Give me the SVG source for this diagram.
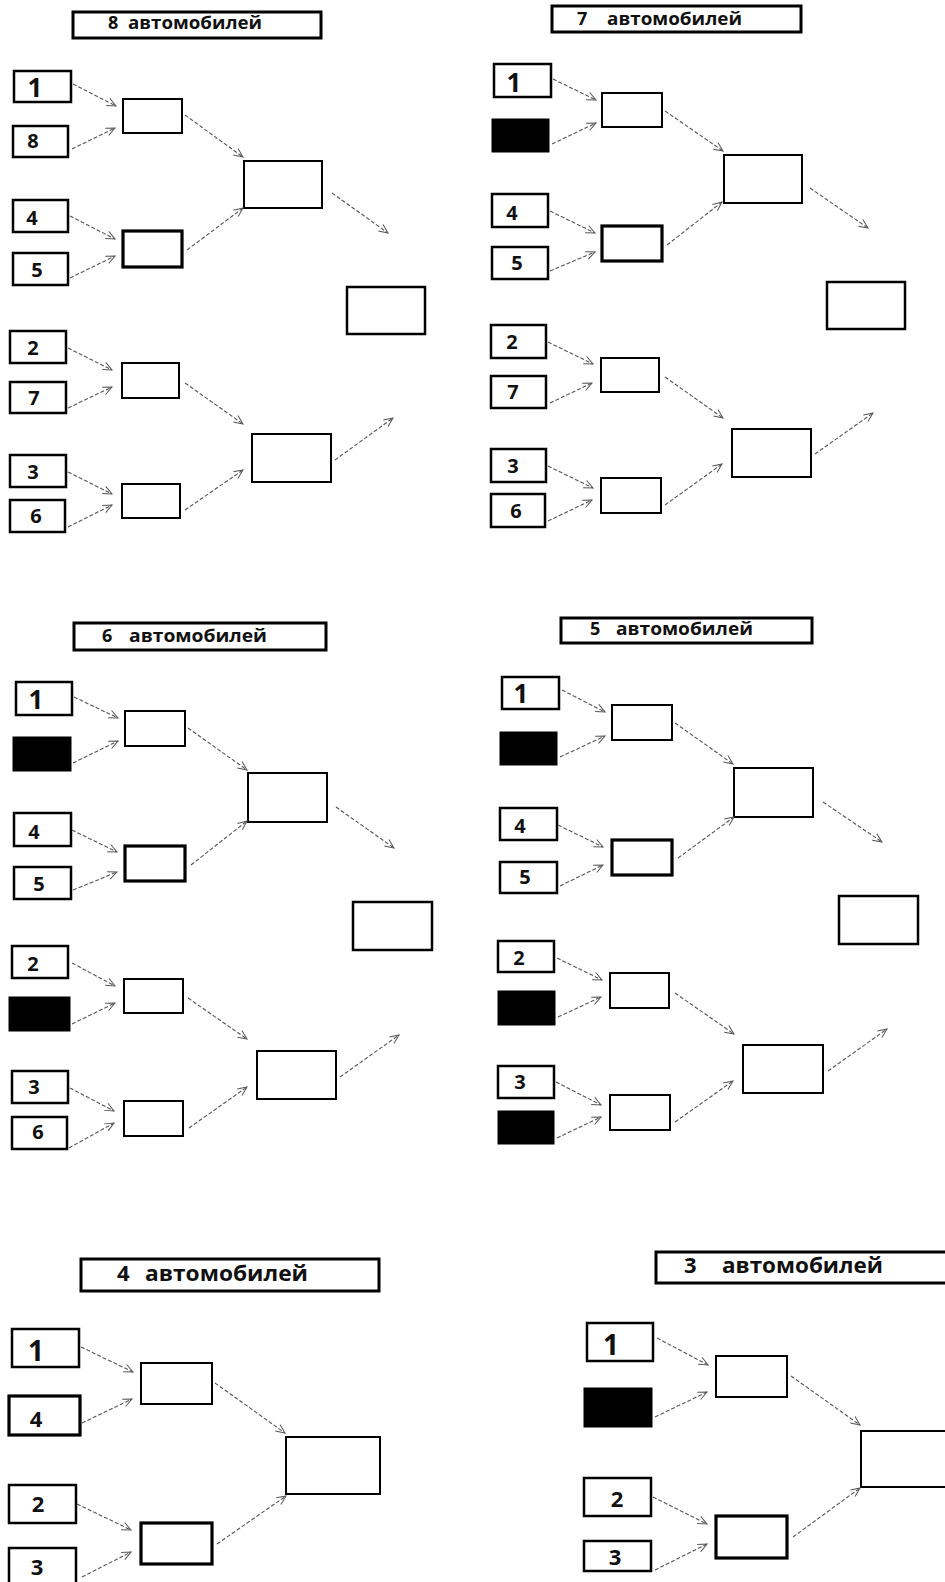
<svg xmlns="http://www.w3.org/2000/svg" width="945" height="1582" viewBox="0 0 945 1582">
<defs>
<marker id="ah" markerWidth="12" markerHeight="10" refX="10" refY="5" orient="auto" markerUnits="userSpaceOnUse">
<path d="M1,1 L10,5 L1,9" fill="none" stroke="#555" stroke-width="1"/>
</marker>
<style>
.b{fill:#fff;stroke:#000;stroke-width:2.5}
.t{fill:#fff;stroke:#000;stroke-width:3}
.k{fill:#000;stroke:#000;stroke-width:1}
.m{fill:#fff;stroke:#000;stroke-width:2}
.th{stroke-width:3.2}
.n{font-family:"Open Sans","Liberation Sans",sans-serif;font-weight:700;font-size:20px;fill:#111;text-anchor:middle}
.one{font-size:26px}
.big{font-size:22px}
.h{font-family:"Open Sans","Liberation Sans",sans-serif;font-weight:700;font-size:18px;fill:#111}
.h2{font-size:22px}
#conn line{stroke:#555;stroke-width:1.1;stroke-dasharray:4 2;marker-end:url(#ah)}
</style>
</defs>
<rect width="945" height="1582" fill="#fff"/>

<!-- Panel 1 -->
<g id="p1-title"><rect class="t" x="73" y="12" width="248" height="26"/><text class="h" y="29"><tspan x="108">8</tspan> <tspan x="128" textLength="134" lengthAdjust="spacingAndGlyphs">автомобилей</tspan></text></g>
<g id="p1-b1"><rect class="b" x="14" y="71" width="57" height="31"/><text class="n one" x="35" y="97">1</text></g>
<g id="p1-b8"><rect class="b" x="13" y="126" width="55" height="31"/><text class="n" x="33" y="148">8</text></g>
<g id="p1-b4"><rect class="b" x="13" y="200" width="55" height="32"/><text class="n" x="32" y="225">4</text></g>
<g id="p1-b5"><rect class="b" x="13" y="253" width="55" height="32"/><text class="n" x="37" y="277">5</text></g>
<g id="p1-b2"><rect class="b" x="10" y="331" width="56" height="32"/><text class="n" x="33" y="355">2</text></g>
<g id="p1-b7"><rect class="b" x="10" y="382" width="56" height="31"/><text class="n" x="34" y="405">7</text></g>
<g id="p1-b3"><rect class="b" x="10" y="455" width="56" height="32"/><text class="n" x="33" y="479">3</text></g>
<g id="p1-b6"><rect class="b" x="10" y="500" width="55" height="32"/><text class="n" x="36" y="523">6</text></g>
<g id="p1-m1"><rect class="m" x="123" y="99" width="59" height="34"/></g>
<g id="p1-m2"><rect class="m th" x="123" y="231" width="59" height="36"/></g>
<g id="p1-m3"><rect class="m" x="122" y="363" width="57" height="35"/></g>
<g id="p1-m4"><rect class="m" x="122" y="484" width="58" height="34"/></g>
<g id="p1-s1"><rect class="m" x="244" y="161" width="78" height="47"/></g>
<g id="p1-s2"><rect class="m" x="252" y="434" width="79" height="48"/></g>
<g id="p1-f"><rect class="b" x="347" y="287" width="78" height="47"/></g>

<!-- Panel 2 -->
<g id="p2-title"><rect class="t" x="552" y="6" width="249" height="26"/><text class="h" y="25"><tspan x="577">7</tspan> <tspan x="607" textLength="135" lengthAdjust="spacingAndGlyphs">автомобилей</tspan></text></g>
<g id="p2-b1"><rect class="b" x="494" y="64" width="57" height="33"/><text class="n one" x="514" y="92">1</text></g>
<g id="p2-bk"><rect class="k" x="492" y="119" width="57" height="33"/></g>
<g id="p2-b4"><rect class="b" x="492" y="194" width="56" height="33"/><text class="n" x="512" y="220">4</text></g>
<g id="p2-b5"><rect class="b" x="492" y="247" width="56" height="32"/><text class="n" x="517" y="270">5</text></g>
<g id="p2-b2"><rect class="b" x="491" y="325" width="55" height="33"/><text class="n" x="512" y="349">2</text></g>
<g id="p2-b7"><rect class="b" x="491" y="376" width="55" height="32"/><text class="n" x="513" y="399">7</text></g>
<g id="p2-b3"><rect class="b" x="491" y="449" width="55" height="33"/><text class="n" x="513" y="473">3</text></g>
<g id="p2-b6"><rect class="b" x="491" y="494" width="54" height="33"/><text class="n" x="516" y="518">6</text></g>
<g id="p2-m1"><rect class="m" x="602" y="93" width="60" height="34"/></g>
<g id="p2-m2"><rect class="m th" x="602" y="226" width="60" height="35"/></g>
<g id="p2-m3"><rect class="m" x="601" y="358" width="58" height="34"/></g>
<g id="p2-m4"><rect class="m" x="601" y="478" width="60" height="35"/></g>
<g id="p2-s1"><rect class="m" x="724" y="155" width="78" height="48"/></g>
<g id="p2-s2"><rect class="m" x="732" y="429" width="79" height="48"/></g>
<g id="p2-f"><rect class="b" x="827" y="282" width="78" height="47"/></g>

<!-- Panel 3 -->
<g id="p3-title"><rect class="t" x="74" y="623" width="252" height="27"/><text class="h" y="642"><tspan x="102">6</tspan> <tspan x="129" textLength="138" lengthAdjust="spacingAndGlyphs">автомобилей</tspan></text></g>
<g id="p3-b1"><rect class="b" x="16" y="682" width="56" height="33"/><text class="n one" x="36" y="709">1</text></g>
<g id="p3-bk1"><rect class="k" x="13" y="737" width="58" height="34"/></g>
<g id="p3-b4"><rect class="b" x="14" y="813" width="57" height="33"/><text class="n" x="34" y="839">4</text></g>
<g id="p3-b5"><rect class="b" x="14" y="867" width="57" height="32"/><text class="n" x="39" y="891">5</text></g>
<g id="p3-b2"><rect class="b" x="12" y="946" width="56" height="32"/><text class="n" x="33" y="971">2</text></g>
<g id="p3-bk2"><rect class="k" x="9" y="997" width="61" height="34"/></g>
<g id="p3-b3"><rect class="b" x="12" y="1071" width="56" height="32"/><text class="n" x="34" y="1094">3</text></g>
<g id="p3-b6"><rect class="b" x="12" y="1117" width="55" height="32"/><text class="n" x="38" y="1139">6</text></g>
<g id="p3-m1"><rect class="m" x="125" y="711" width="60" height="35"/></g>
<g id="p3-m2"><rect class="m th" x="125" y="846" width="60" height="35"/></g>
<g id="p3-m3"><rect class="m" x="124" y="979" width="59" height="34"/></g>
<g id="p3-m4"><rect class="m" x="124" y="1101" width="59" height="35"/></g>
<g id="p3-s1"><rect class="m" x="248" y="773" width="79" height="49"/></g>
<g id="p3-s2"><rect class="m" x="257" y="1051" width="79" height="48"/></g>
<g id="p3-f"><rect class="b" x="353" y="902" width="79" height="48"/></g>

<!-- Panel 4 -->
<g id="p4-title"><rect class="t" x="561" y="618" width="251" height="25"/><text class="h" y="635"><tspan x="590">5</tspan> <tspan x="616" textLength="137" lengthAdjust="spacingAndGlyphs">автомобилей</tspan></text></g>
<g id="p4-b1"><rect class="b" x="502" y="677" width="57" height="32"/><text class="n one" x="521" y="703">1</text></g>
<g id="p4-bk1"><rect class="k" x="500" y="732" width="57" height="33"/></g>
<g id="p4-b4"><rect class="b" x="500" y="808" width="57" height="32"/><text class="n" x="520" y="833">4</text></g>
<g id="p4-b5"><rect class="b" x="500" y="862" width="57" height="31"/><text class="n" x="525" y="884">5</text></g>
<g id="p4-b2"><rect class="b" x="498" y="941" width="56" height="31"/><text class="n" x="519" y="965">2</text></g>
<g id="p4-bk2"><rect class="k" x="498" y="991" width="57" height="34"/></g>
<g id="p4-b3"><rect class="b" x="498" y="1066" width="56" height="32"/><text class="n" x="520" y="1089">3</text></g>
<g id="p4-bk3"><rect class="k" x="498" y="1111" width="56" height="33"/></g>
<g id="p4-m1"><rect class="m" x="612" y="705" width="60" height="35"/></g>
<g id="p4-m2"><rect class="m th" x="612" y="840" width="60" height="35"/></g>
<g id="p4-m3"><rect class="m" x="610" y="973" width="59" height="35"/></g>
<g id="p4-m4"><rect class="m" x="610" y="1095" width="60" height="35"/></g>
<g id="p4-s1"><rect class="m" x="734" y="768" width="79" height="49"/></g>
<g id="p4-s2"><rect class="m" x="743" y="1045" width="80" height="48"/></g>
<g id="p4-f"><rect class="b" x="839" y="896" width="79" height="48"/></g>

<!-- Panel 5 -->
<g id="p5-title"><rect class="t" x="81" y="1259" width="298" height="32"/><text class="h h2" y="1281"><tspan x="117">4</tspan> <tspan x="145" textLength="163" lengthAdjust="spacingAndGlyphs">автомобилей</tspan></text></g>
<g id="p5-b1"><rect class="b" x="12" y="1329" width="67" height="38"/><text class="n one" x="36" y="1361" style="font-size:28px">1</text></g>
<g id="p5-b4"><rect class="b th" x="9" y="1396" width="71" height="39"/><text class="n big" x="36" y="1427">4</text></g>
<g id="p5-b2"><rect class="b" x="9" y="1485" width="67" height="38"/><text class="n big" x="38" y="1512">2</text></g>
<g id="p5-b3"><rect class="b" x="9" y="1548" width="67" height="40"/><text class="n big" x="37" y="1575">3</text></g>
<g id="p5-m1"><rect class="m" x="141" y="1363" width="71" height="41"/></g>
<g id="p5-m2"><rect class="m th" x="141" y="1523" width="71" height="41"/></g>
<g id="p5-f"><rect class="m" x="286" y="1437" width="94" height="57"/></g>

<!-- Panel 6 -->
<g id="p6-title"><rect class="t" x="656" y="1252" width="292" height="31"/><text class="h h2" y="1273"><tspan x="684">3</tspan> <tspan x="722" textLength="161" lengthAdjust="spacingAndGlyphs">автомобилей</tspan></text></g>
<g id="p6-b1"><rect class="b" x="587" y="1323" width="66" height="38"/><text class="n one" x="611" y="1355" style="font-size:28px">1</text></g>
<g id="p6-bk"><rect class="k" x="584" y="1388" width="68" height="39"/></g>
<g id="p6-b2"><rect class="b" x="584" y="1478" width="67" height="38"/><text class="n big" x="617" y="1507">2</text></g>
<g id="p6-b3"><rect class="b" x="584" y="1541" width="67" height="30"/><text class="n big" x="615" y="1565">3</text></g>
<g id="p6-m1"><rect class="m" x="716" y="1356" width="71" height="41"/></g>
<g id="p6-m2"><rect class="m th" x="716" y="1516" width="71" height="42"/></g>
<g id="p6-f"><rect class="m" x="861" y="1431" width="90" height="56"/></g>

<g id="conn">
<!-- P1 -->
<line x1="73" y1="84" x2="116" y2="106"/>
<line x1="72" y1="149" x2="115" y2="128"/>
<line x1="70" y1="216" x2="115" y2="239"/>
<line x1="70" y1="278" x2="115" y2="256"/>
<line x1="185" y1="115" x2="243" y2="157"/>
<line x1="187" y1="250" x2="243" y2="208"/>
<line x1="332" y1="193" x2="388" y2="233"/>
<line x1="68" y1="348" x2="112" y2="370"/>
<line x1="68" y1="408" x2="112" y2="387"/>
<line x1="68" y1="472" x2="112" y2="494"/>
<line x1="68" y1="527" x2="112" y2="505"/>
<line x1="185" y1="383" x2="243" y2="424"/>
<line x1="185" y1="510" x2="243" y2="470"/>
<line x1="335" y1="460" x2="393" y2="418"/>
<!-- P2 -->
<line x1="553" y1="79" x2="596" y2="100"/>
<line x1="552" y1="144" x2="596" y2="123"/>
<line x1="550" y1="211" x2="595" y2="233"/>
<line x1="550" y1="271" x2="595" y2="252"/>
<line x1="665" y1="111" x2="723" y2="151"/>
<line x1="667" y1="245" x2="722" y2="202"/>
<line x1="810" y1="188" x2="868" y2="228"/>
<line x1="548" y1="342" x2="593" y2="364"/>
<line x1="550" y1="403" x2="592" y2="383"/>
<line x1="548" y1="466" x2="593" y2="488"/>
<line x1="548" y1="521" x2="592" y2="500"/>
<line x1="665" y1="377" x2="723" y2="418"/>
<line x1="665" y1="505" x2="722" y2="464"/>
<line x1="815" y1="454" x2="873" y2="413"/>
<!-- P3 -->
<line x1="74" y1="697" x2="118" y2="718"/>
<line x1="73" y1="763" x2="118" y2="741"/>
<line x1="72" y1="830" x2="117" y2="852"/>
<line x1="73" y1="890" x2="117" y2="872"/>
<line x1="188" y1="728" x2="247" y2="770"/>
<line x1="191" y1="865" x2="247" y2="821"/>
<line x1="336" y1="807" x2="394" y2="848"/>
<line x1="72" y1="963" x2="115" y2="986"/>
<line x1="72" y1="1024" x2="115" y2="1003"/>
<line x1="70" y1="1088" x2="114" y2="1111"/>
<line x1="69" y1="1148" x2="114" y2="1123"/>
<line x1="188" y1="998" x2="247" y2="1039"/>
<line x1="189" y1="1128" x2="247" y2="1087"/>
<line x1="340" y1="1077" x2="399" y2="1035"/>
<!-- P4 -->
<line x1="562" y1="690" x2="605" y2="712"/>
<line x1="560" y1="757" x2="605" y2="736"/>
<line x1="558" y1="825" x2="603" y2="847"/>
<line x1="560" y1="886" x2="603" y2="865"/>
<line x1="675" y1="723" x2="733" y2="764"/>
<line x1="678" y1="858" x2="734" y2="817"/>
<line x1="823" y1="802" x2="882" y2="842"/>
<line x1="557" y1="958" x2="602" y2="980"/>
<line x1="558" y1="1017" x2="601" y2="997"/>
<line x1="556" y1="1082" x2="601" y2="1105"/>
<line x1="557" y1="1138" x2="601" y2="1117"/>
<line x1="675" y1="993" x2="734" y2="1034"/>
<line x1="675" y1="1122" x2="733" y2="1081"/>
<line x1="828" y1="1071" x2="887" y2="1029"/>
<!-- P5 -->
<line x1="81" y1="1347" x2="133" y2="1372"/>
<line x1="82" y1="1423" x2="132" y2="1399"/>
<line x1="215" y1="1383" x2="285" y2="1433"/>
<line x1="217" y1="1544" x2="286" y2="1496"/>
<line x1="77" y1="1504" x2="131" y2="1530"/>
<line x1="82" y1="1577" x2="131" y2="1552"/>
<!-- P6 -->
<line x1="657" y1="1338" x2="708" y2="1365"/>
<line x1="655" y1="1417" x2="707" y2="1392"/>
<line x1="791" y1="1376" x2="860" y2="1425"/>
<line x1="793" y1="1537" x2="860" y2="1488"/>
<line x1="653" y1="1497" x2="707" y2="1524"/>
<line x1="655" y1="1570" x2="707" y2="1544"/>
</g>
</svg>
